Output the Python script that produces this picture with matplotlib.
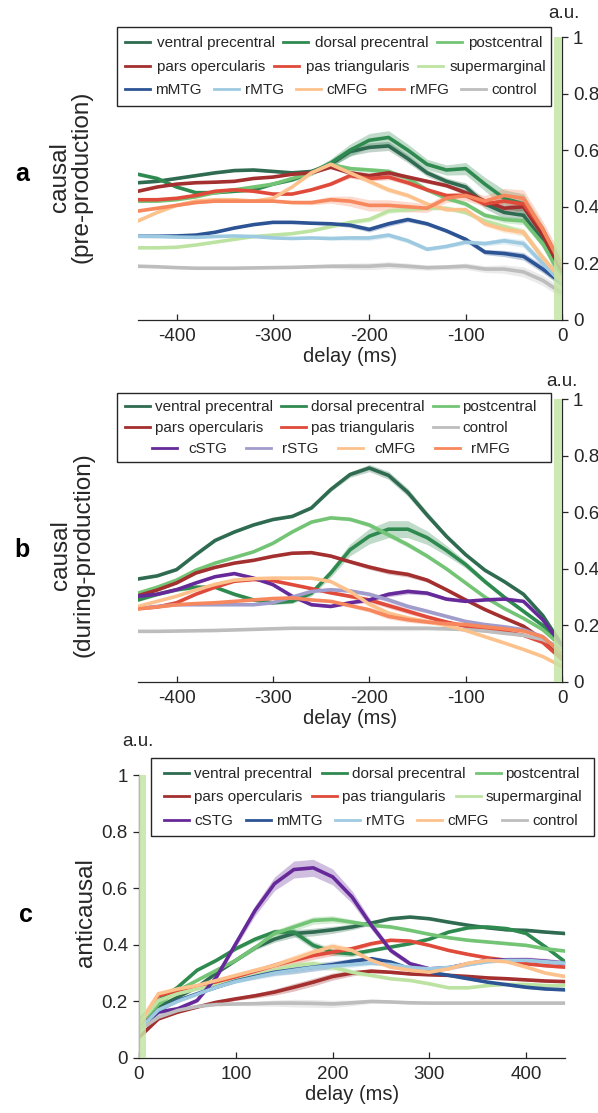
"""
Causal / anticausal contribution curves per cortical region (three stacked panels).
Writes out.png.
"""
import matplotlib

matplotlib.use('Agg')
import matplotlib.pyplot as plt
import numpy as np
from matplotlib.lines import Line2D
from matplotlib.patches import Rectangle

plt.rcParams['font.family'] = ['Liberation Sans', 'DejaVu Sans']
plt.rcParams['axes.unicode_minus'] = False

W, H = 598, 1113
INK = '#262626'
TICK_FS = 13.5
LABEL_FS = 17.5
LEG_FS = 11.0
LEG_PX = LEG_FS * 100 / 72.0

COLORS = {
    'ventral precentral': '#2f6b50',
    'dorsal precentral': '#2f8a50',
    'postcentral': '#74c476',
    'pars opercularis': '#a32f2f',
    'pas triangularis': '#e04a3a',
    'supermarginal': '#bde3a2',
    'mMTG': '#2c5494',
    'rMTG': '#9ecae1',
    'cMFG': '#fdc18c',
    'rMFG': '#f7875c',
    'control': '#bdbdbd',
    'cSTG': '#66299a',
    'rSTG': '#a09ccc',
}
BAR_COLOR = '#c4e4a6'

# ---------------- panel a: causal, pre-production ----------------
delay_a = list(range(-440, 1, 20))
a_ventral_precentral = [0.485, 0.49, 0.50, 0.51, 0.52, 0.528, 0.53, 0.525, 0.52, 0.525, 0.55, 0.595,
                        0.61, 0.615, 0.57, 0.52, 0.49, 0.47, 0.41, 0.38, 0.37, 0.28, 0.17]
a_dorsal_precentral = [0.515, 0.50, 0.47, 0.45, 0.45, 0.455, 0.46, 0.48, 0.495, 0.52, 0.555, 0.60,
                       0.635, 0.645, 0.60, 0.55, 0.53, 0.535, 0.48, 0.43, 0.41, 0.30, 0.15]
a_postcentral = [0.42, 0.42, 0.425, 0.435, 0.45, 0.46, 0.47, 0.48, 0.50, 0.52, 0.55, 0.535,
                 0.53, 0.525, 0.50, 0.46, 0.43, 0.41, 0.37, 0.355, 0.35, 0.27, 0.15]
a_pars_opercularis = [0.455, 0.47, 0.48, 0.485, 0.487, 0.49, 0.50, 0.505, 0.515, 0.52, 0.54, 0.52,
                      0.51, 0.52, 0.505, 0.49, 0.475, 0.45, 0.42, 0.395, 0.40, 0.30, 0.17]
a_pas_triangularis = [0.425, 0.425, 0.43, 0.44, 0.455, 0.46, 0.455, 0.445, 0.445, 0.46, 0.48, 0.51,
                      0.50, 0.505, 0.485, 0.46, 0.44, 0.44, 0.41, 0.42, 0.41, 0.32, 0.19]
a_supermarginal = [0.255, 0.255, 0.257, 0.265, 0.275, 0.285, 0.295, 0.30, 0.305, 0.315, 0.33, 0.345,
                   0.355, 0.385, 0.39, 0.395, 0.395, 0.38, 0.35, 0.33, 0.31, 0.22, 0.14]
a_mMTG = [0.296, 0.296, 0.297, 0.30, 0.31, 0.325, 0.337, 0.345, 0.345, 0.342, 0.34, 0.335,
          0.32, 0.34, 0.355, 0.34, 0.315, 0.285, 0.24, 0.235, 0.225, 0.18, 0.13]
a_rMTG = [0.296, 0.295, 0.293, 0.292, 0.295, 0.297, 0.295, 0.29, 0.288, 0.29, 0.288, 0.29,
          0.29, 0.30, 0.28, 0.25, 0.26, 0.275, 0.27, 0.28, 0.27, 0.20, 0.13]
a_cMFG = [0.35, 0.38, 0.405, 0.42, 0.425, 0.425, 0.42, 0.43, 0.47, 0.52, 0.55, 0.52,
          0.49, 0.46, 0.44, 0.41, 0.39, 0.39, 0.34, 0.32, 0.31, 0.22, 0.14]
a_rMFG = [0.385, 0.395, 0.405, 0.415, 0.42, 0.42, 0.42, 0.42, 0.415, 0.415, 0.425, 0.42,
          0.405, 0.405, 0.40, 0.395, 0.43, 0.44, 0.42, 0.44, 0.43, 0.32, 0.19]
a_control = [0.19, 0.188, 0.185, 0.183, 0.183, 0.183, 0.184, 0.185, 0.186, 0.188, 0.19, 0.19,
             0.19, 0.194, 0.19, 0.185, 0.187, 0.19, 0.18, 0.18, 0.17, 0.14, 0.095]
a_sem = [0.004, 0.004, 0.004, 0.004, 0.004, 0.004, 0.004, 0.004, 0.004, 0.008, 0.012, 0.018,
         0.02, 0.02, 0.018, 0.015, 0.015, 0.018, 0.02, 0.025, 0.03, 0.03, 0.03]
a_band = {'dorsal precentral': 1.2, 'ventral precentral': 0.8, 'rMFG': 1.0, 'control': 0.6}

# ---------------- panel b: causal, during production ----------------
delay_b = list(range(-440, 1, 20))
b_ventral_precentral = [0.364, 0.375, 0.397, 0.45, 0.50, 0.53, 0.555, 0.574, 0.585, 0.615, 0.68, 0.733,
                        0.756, 0.73, 0.67, 0.59, 0.515, 0.45, 0.395, 0.355, 0.31, 0.235, 0.13]
b_dorsal_precentral = [0.29, 0.31, 0.326, 0.335, 0.335, 0.31, 0.29, 0.28, 0.285, 0.314, 0.385, 0.467,
                       0.515, 0.54, 0.54, 0.51, 0.465, 0.415, 0.355, 0.30, 0.25, 0.20, 0.125]
b_postcentral = [0.314, 0.335, 0.36, 0.395, 0.42, 0.44, 0.46, 0.49, 0.53, 0.565, 0.58, 0.575,
                 0.555, 0.52, 0.485, 0.445, 0.40, 0.35, 0.30, 0.26, 0.225, 0.185, 0.125]
b_pars_opercularis = [0.305, 0.325, 0.35, 0.385, 0.405, 0.42, 0.43, 0.444, 0.455, 0.457, 0.445, 0.425,
                      0.406, 0.39, 0.38, 0.36, 0.326, 0.29, 0.256, 0.226, 0.197, 0.15, 0.09]
b_pas_triangularis = [0.26, 0.265, 0.28, 0.31, 0.335, 0.356, 0.362, 0.358, 0.344, 0.33, 0.315, 0.303,
                      0.29, 0.27, 0.25, 0.23, 0.212, 0.197, 0.185, 0.178, 0.165, 0.14, 0.08]
b_control = [0.179, 0.179, 0.18, 0.181, 0.182, 0.184, 0.186, 0.188, 0.19, 0.19, 0.19, 0.19,
             0.19, 0.19, 0.19, 0.19, 0.188, 0.185, 0.18, 0.172, 0.165, 0.15, 0.12]
b_cSTG = [0.303, 0.31, 0.326, 0.35, 0.372, 0.383, 0.367, 0.344, 0.303, 0.273, 0.267, 0.28,
          0.29, 0.31, 0.32, 0.314, 0.293, 0.285, 0.29, 0.293, 0.285, 0.22, 0.13]
b_rSTG = [0.26, 0.267, 0.273, 0.273, 0.273, 0.273, 0.273, 0.28, 0.30, 0.32, 0.326, 0.322,
          0.31, 0.29, 0.267, 0.25, 0.232, 0.214, 0.203, 0.195, 0.185, 0.16, 0.10]
b_cMFG = [0.267, 0.285, 0.303, 0.325, 0.345, 0.36, 0.365, 0.367, 0.367, 0.367, 0.355, 0.32,
          0.275, 0.243, 0.226, 0.214, 0.20, 0.182, 0.16, 0.138, 0.115, 0.09, 0.055]
b_rMFG = [0.258, 0.265, 0.273, 0.277, 0.28, 0.285, 0.29, 0.295, 0.297, 0.29, 0.285, 0.27,
          0.255, 0.232, 0.22, 0.212, 0.206, 0.203, 0.195, 0.188, 0.18, 0.16, 0.10]
b_sem = [0.004, 0.004, 0.004, 0.004, 0.004, 0.004, 0.004, 0.004, 0.005, 0.007, 0.01, 0.014,
         0.018, 0.02, 0.02, 0.016, 0.012, 0.008, 0.006, 0.005, 0.005, 0.005, 0.005]
b_band = {'dorsal precentral': 1.5, 'ventral precentral': 0.7}

# ---------------- panel c: anticausal ----------------
delay_c = list(range(0, 441, 20))
c_ventral_precentral = [0.097, 0.18, 0.215, 0.25, 0.30, 0.345, 0.39, 0.42, 0.44, 0.445, 0.453, 0.463,
                        0.477, 0.492, 0.498, 0.492, 0.48, 0.469, 0.46, 0.453, 0.451, 0.445, 0.44]
c_dorsal_precentral = [0.132, 0.203, 0.25, 0.31, 0.345, 0.386, 0.42, 0.445, 0.445, 0.398, 0.374, 0.368,
                       0.38, 0.392, 0.404, 0.42, 0.445, 0.46, 0.463, 0.457, 0.44, 0.392, 0.34]
c_postcentral = [0.12, 0.19, 0.238, 0.274, 0.31, 0.345, 0.39, 0.44, 0.463, 0.486, 0.49, 0.48,
                 0.469, 0.463, 0.451, 0.437, 0.425, 0.416, 0.41, 0.404, 0.398, 0.386, 0.378]
c_pars_opercularis = [0.073, 0.138, 0.162, 0.18, 0.197, 0.209, 0.22, 0.233, 0.25, 0.268, 0.288, 0.30,
                      0.307, 0.303, 0.297, 0.294, 0.292, 0.288, 0.283, 0.28, 0.276, 0.272, 0.27]
c_pas_triangularis = [0.109, 0.22, 0.238, 0.25, 0.268, 0.286, 0.307, 0.327, 0.345, 0.362, 0.374, 0.386,
                      0.404, 0.416, 0.413, 0.398, 0.38, 0.366, 0.354, 0.345, 0.333, 0.326, 0.321]
c_supermarginal = [0.12, 0.203, 0.227, 0.244, 0.256, 0.274, 0.292, 0.31, 0.327, 0.333, 0.321, 0.303,
                   0.292, 0.28, 0.274, 0.262, 0.248, 0.248, 0.256, 0.26, 0.26, 0.256, 0.256]
c_cSTG = [0.103, 0.162, 0.174, 0.203, 0.286, 0.404, 0.522, 0.616, 0.666, 0.672, 0.64, 0.569,
          0.469, 0.38, 0.333, 0.315, 0.319, 0.333, 0.345, 0.347, 0.347, 0.342, 0.335]
c_mMTG = [0.097, 0.168, 0.203, 0.227, 0.25, 0.272, 0.288, 0.303, 0.312, 0.321, 0.33, 0.342,
          0.351, 0.339, 0.315, 0.303, 0.292, 0.28, 0.268, 0.259, 0.25, 0.244, 0.241]
c_rMTG = [0.10, 0.17, 0.20, 0.225, 0.25, 0.27, 0.285, 0.30, 0.31, 0.32, 0.325, 0.33,
          0.335, 0.33, 0.32, 0.315, 0.32, 0.33, 0.34, 0.345, 0.345, 0.34, 0.335]
c_cMFG = [0.12, 0.227, 0.244, 0.256, 0.274, 0.292, 0.31, 0.327, 0.35, 0.374, 0.394, 0.38,
          0.345, 0.321, 0.31, 0.303, 0.315, 0.335, 0.345, 0.34, 0.321, 0.30, 0.288]
c_control = [0.097, 0.144, 0.168, 0.182, 0.189, 0.191, 0.192, 0.194, 0.194, 0.193, 0.191, 0.195,
             0.20, 0.198, 0.195, 0.194, 0.194, 0.194, 0.194, 0.194, 0.194, 0.194, 0.194]
c_sem = [0.01, 0.008, 0.006, 0.006, 0.008, 0.012, 0.018, 0.024, 0.03, 0.03, 0.028, 0.022,
         0.015, 0.01, 0.008, 0.008, 0.008, 0.008, 0.008, 0.009, 0.01, 0.01, 0.01]
c_band = {'cSTG': 1.0}

series_a = [('ventral precentral', a_ventral_precentral), ('dorsal precentral', a_dorsal_precentral),
            ('postcentral', a_postcentral), ('pars opercularis', a_pars_opercularis),
            ('pas triangularis', a_pas_triangularis), ('supermarginal', a_supermarginal),
            ('mMTG', a_mMTG), ('rMTG', a_rMTG), ('cMFG', a_cMFG), ('rMFG', a_rMFG),
            ('control', a_control)]
series_b = [('ventral precentral', b_ventral_precentral), ('dorsal precentral', b_dorsal_precentral),
            ('postcentral', b_postcentral), ('pars opercularis', b_pars_opercularis),
            ('pas triangularis', b_pas_triangularis), ('control', b_control),
            ('cSTG', b_cSTG), ('rSTG', b_rSTG), ('cMFG', b_cMFG), ('rMFG', b_rMFG)]
series_c = [('ventral precentral', c_ventral_precentral), ('dorsal precentral', c_dorsal_precentral),
            ('postcentral', c_postcentral), ('pars opercularis', c_pars_opercularis),
            ('pas triangularis', c_pas_triangularis), ('supermarginal', c_supermarginal),
            ('cSTG', c_cSTG), ('mMTG', c_mMTG), ('rMTG', c_rMTG), ('cMFG', c_cMFG),
            ('control', c_control)]


def px_axes(fig, left, right, top, bottom):
    return fig.add_axes([left / W, 1 - bottom / H, (right - left) / W, (bottom - top) / H])


def draw_curves(ax, x, series, sem, band):
    x = np.asarray(x)
    for name, y in series:
        y = np.asarray(y)
        s = np.asarray(sem) * band.get(name, 0.45)
        ax.fill_between(x, y - s, y + s, color=COLORS[name], alpha=0.3, lw=0)
        ax.plot(x, y, color=COLORS[name], lw=2.6, solid_capstyle='round', solid_joinstyle='round')


def style_axes(ax, right_side):
    ax.set_ylim(0, 1)
    ax.set_yticks([0, 0.2, 0.4, 0.6, 0.8, 1])
    ax.set_yticklabels(['0', '0.2', '0.4', '0.6', '0.8', '1'])
    ax.spines['top'].set_visible(False)
    if right_side:
        ax.spines['left'].set_visible(False)
        ax.yaxis.tick_right()
    else:
        ax.spines['right'].set_visible(False)
    for sp in ax.spines.values():
        sp.set_color(INK)
        sp.set_linewidth(0.9)
    ax.tick_params(axis='x', direction='in', length=4, width=0.9, colors=INK,
                   labelsize=TICK_FS, pad=6)
    ax.tick_params(axis='y', direction='out', length=4, width=0.9, colors=INK,
                   labelsize=TICK_FS, pad=4)
    ax.set_xlabel('delay (ms)', fontsize=14.5, color=INK, labelpad=1)
    ax.patch.set_alpha(0)


def legend_row(fig, labels, x0, yc, textpad, colspace):
    handles = [Line2D([], [], color=COLORS[l], lw=2) for l in labels]
    fig.legend(handles, labels, loc='center left', bbox_to_anchor=(x0 / W, 1 - yc / H),
               ncol=len(labels), frameon=False, fontsize=LEG_FS,
               handlelength=25 / LEG_PX, handletextpad=textpad / LEG_PX,
               columnspacing=colspace / LEG_PX, borderpad=0, borderaxespad=0,
               labelcolor=INK)


def legend_box(fig, left, right, top, bottom):
    fig.patches.append(Rectangle((left / W, 1 - bottom / H), (right - left) / W, (bottom - top) / H,
                                 transform=fig.transFigure, facecolor='white', edgecolor=INK,
                                 lw=1.0, zorder=4))


fig = plt.figure(figsize=(W / 100, H / 100), dpi=100)

# panel a
ax_a = px_axes(fig, 138, 562, 37, 320)
draw_curves(ax_a, delay_a, series_a, a_sem, a_band)
ax_a.axvspan(-8, 0, color=BAR_COLOR, alpha=0.85, lw=0, zorder=3)
ax_a.set_xlim(-440, 0)
ax_a.set_xticks([-400, -300, -200, -100, 0])
style_axes(ax_a, True)

# panel b
ax_b = px_axes(fig, 138, 562, 399, 682)
draw_curves(ax_b, delay_b, series_b, b_sem, b_band)
ax_b.axvspan(-8, 0, color=BAR_COLOR, alpha=0.85, lw=0, zorder=3)
ax_b.set_xlim(-440, 0)
ax_b.set_xticks([-400, -300, -200, -100, 0])
style_axes(ax_b, True)

# panel c
ax_c = px_axes(fig, 139, 565, 775, 1058)
draw_curves(ax_c, delay_c, series_c, c_sem, c_band)
ax_c.axvspan(0, 7, color=BAR_COLOR, alpha=0.85, lw=0, zorder=3)
ax_c.set_xlim(0, 440)
ax_c.set_xticks([0, 100, 200, 300, 400])
style_axes(ax_c, False)

# legends (MATLAB-style rows inside one box)
legend_box(fig, 117, 551, 27, 106)
legend_row(fig, ['ventral precentral', 'dorsal precentral', 'postcentral'], 125, 43, 7, 8)
legend_row(fig, ['pars opercularis', 'pas triangularis', 'supermarginal'], 125, 67, 7, 8.5)
legend_row(fig, ['mMTG', 'rMTG', 'cMFG', 'rMFG', 'control'], 125, 90, 5.5, 12)

legend_box(fig, 117, 551, 393, 462)
legend_row(fig, ['ventral precentral', 'dorsal precentral', 'postcentral'], 125, 407, 5, 8)
legend_row(fig, ['pars opercularis', 'pas triangularis', 'control'], 125, 428, 5, 18)
legend_row(fig, ['cSTG', 'rSTG', 'cMFG', 'rMFG'], 152, 449, 11, 19.5)

legend_box(fig, 151, 594, 758, 836)
legend_row(fig, ['ventral precentral', 'dorsal precentral', 'postcentral'], 164, 774, 5, 10)
legend_row(fig, ['pars opercularis', 'pas triangularis', 'supermarginal'], 164, 797, 5, 10)
legend_row(fig, ['cSTG', 'mMTG', 'rMTG', 'cMFG', 'control'], 164, 821, 5.5, 12.5)

# panel letters, y labels, units
for letter, ylab, (lx, ly), (tx, ty) in [
        ('a', 'causal\n(pre-production)', (22, 174), (71, 177)),
        ('b', 'causal\n(during-production)', (22, 550), (72, 555)),
        ('c', 'anticausal', (26, 915), (86, 913))]:
    fig.text(lx / W, 1 - ly / H, letter, fontsize=18, fontweight='bold', color='black',
             ha='center', va='center')
    fig.text(tx / W, 1 - ty / H, ylab, fontsize=LABEL_FS, color=INK, rotation=90,
             ha='center', va='center', linespacing=1.0, multialignment='center')

for (ux, uy) in [(564, 14), (562, 381), (138, 742)]:
    fig.text(ux / W, 1 - uy / H, 'a.u.', fontsize=TICK_FS, color=INK, ha='center', va='center')

fig.savefig('out.png', dpi=100)
